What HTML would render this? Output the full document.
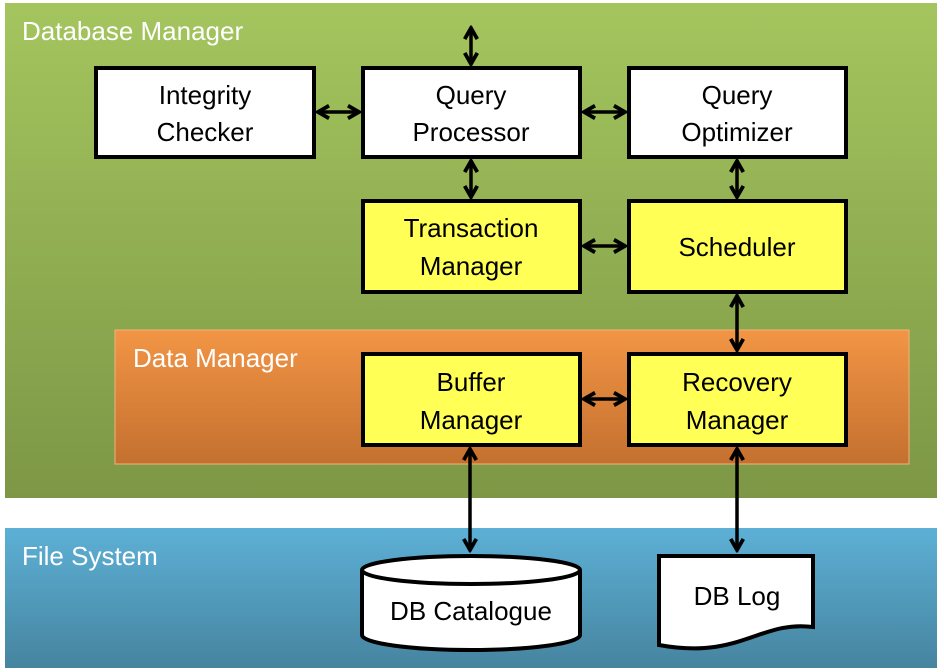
<!DOCTYPE html>
<html><head><meta charset="utf-8"><style>
html,body{margin:0;padding:0;background:#fff;width:944px;height:672px;overflow:hidden}
text{font-family:"Liberation Sans",sans-serif}
</style></head><body>
<svg width="944" height="672" viewBox="0 0 944 672" xmlns="http://www.w3.org/2000/svg">
<defs>
<linearGradient id="g" x1="0" y1="0" x2="0" y2="1"><stop offset="0" stop-color="#a4c55e"/><stop offset="1" stop-color="#7d9746"/></linearGradient>
<linearGradient id="o" x1="0" y1="0" x2="0" y2="1"><stop offset="0" stop-color="#f29545"/><stop offset="1" stop-color="#c4702f"/></linearGradient>
<linearGradient id="b" x1="0" y1="0" x2="0" y2="1"><stop offset="0" stop-color="#5db0d6"/><stop offset="1" stop-color="#46849f"/></linearGradient>
<marker id="a" viewBox="0 0 10 10" refX="8.5" refY="5" markerWidth="4.5" markerHeight="4.5" orient="auto-start-reverse"><path d="M1.5,1 L8.5,5 L1.5,9" fill="none" stroke="#000" stroke-width="2.4"/></marker>
</defs>
<rect x="5" y="3" width="932" height="495" fill="url(#g)"/>
<rect x="5" y="528" width="932" height="140" fill="url(#b)"/>
<rect x="115" y="330" width="794" height="134" fill="url(#o)" stroke="#f5b07a" stroke-width="1"/>
<g font-size="26" fill="#fff">
<text x="22" y="40">Database Manager</text>
<text x="133" y="367">Data Manager</text>
<text x="22" y="565">File System</text>
</g>
<g stroke="#000" stroke-width="4">
<rect x="96" y="68" width="218" height="89" fill="#fff"/>
<rect x="363" y="68" width="217" height="89" fill="#fff"/>
<rect x="629" y="68" width="217" height="89" fill="#fff"/>
<rect x="363" y="201" width="217" height="91" fill="#ffff55"/>
<rect x="629" y="201" width="217" height="91" fill="#ffff55"/>
<rect x="363" y="354" width="217" height="91" fill="#ffff55"/>
<rect x="629" y="354" width="217" height="91" fill="#ffff55"/>
<path d="M362,570 L362,635 A109,15 0 0 0 580,635 L580,570" fill="#fff"/>
<ellipse cx="471" cy="570" rx="109" ry="14" fill="#fff"/>
<path d="M659,556 L813,556 L813,627 C760,620 740,660 659,645 Z" fill="#fff"/>
</g>
<g stroke="#000" stroke-width="3.5" fill="none" marker-start="url(#a)" marker-end="url(#a)">
<line x1="471" y1="28" x2="471" y2="64"/>
<line x1="318" y1="112" x2="359" y2="112"/>
<line x1="584" y1="112" x2="625" y2="112"/>
<line x1="471" y1="161" x2="471" y2="197"/>
<line x1="737" y1="161" x2="737" y2="197"/>
<line x1="584" y1="246" x2="625" y2="246"/>
<line x1="737" y1="296" x2="737" y2="350"/>
<line x1="584" y1="399" x2="625" y2="399"/>
<line x1="470" y1="449" x2="470" y2="550"/>
<line x1="737" y1="449" x2="737" y2="550"/>
</g>
<g font-size="26" fill="#000" text-anchor="middle">
<text x="205" y="104">Integrity</text><text x="205" y="141">Checker</text>
<text x="471" y="104">Query</text><text x="471" y="141">Processor</text>
<text x="737" y="104">Query</text><text x="737" y="141">Optimizer</text>
<text x="471" y="237">Transaction</text><text x="471" y="275">Manager</text>
<text x="737" y="256">Scheduler</text>
<text x="471" y="391">Buffer</text><text x="471" y="429">Manager</text>
<text x="737" y="391">Recovery</text><text x="737" y="429">Manager</text>
<text x="471" y="620">DB Catalogue</text>
<text x="737" y="605">DB Log</text>
</g>
</svg>
</body></html>
